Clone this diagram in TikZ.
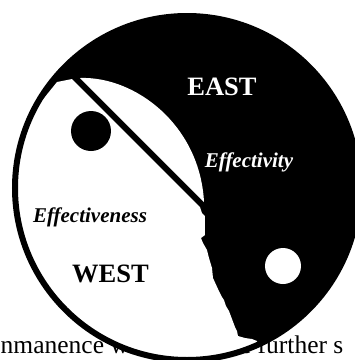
\documentclass[tikz,border=0pt]{standalone}
\usepackage{fontspec}
\setmainfont{Liberation Serif}
\begin{document}
\begin{tikzpicture}[x=1pt,y=-1pt,
  txt/.style={inner sep=0pt, anchor=base},
  body/.style={txt, anchor=base west, font=\fontsize{25.5}{30}\selectfont},
  big/.style={txt, font=\fontsize{26.5}{30}\selectfont\bfseries},
  ital/.style={txt, font=\fontsize{21}{25}\selectfont\bfseries\itshape}]
\useasboundingbox (0,0) rectangle (355,360);
\clip (0,0) rectangle (355,360);
% body text behind the disc
\node[body] (t1) at (0.5,353) {nmanence which};
\node[body] (t2) at (220,353) {the further s};
% disc
\coordinate (c) at (187,188);
\fill[black] (c) circle[radius=172pt];
\begin{scope}
  \clip (c) circle[radius=172pt];
  % white western region with coastline
  \fill[white] (72,79) -- (200,207) -- (202,213) -- (205,216) -- (205,235)
    -- (201,238) -- (203,243) -- (207,250) -- (209,258) -- (212,268)
    -- (213,278) -- (218,289) -- (222,297) -- (224,300) -- (226,306)
    -- (229,311) -- (232,319) -- (235,327) -- (237,331) -- (238,336)
    -- (245,338) -- (252,339) -- (257,341) -- (262,365) -- (262,400)
    -- (0,400) -- (0,112) -- (20,110) -- (40,103) -- (57,82) -- cycle;
  % white lens above the bar
  \fill[white] (80,78) .. controls (135,76) and (200,125) .. (204,202) -- cycle;
\end{scope}
% dots
\fill[black] (91,131) circle[radius=20pt];
\fill[white] (283,266) circle[radius=18pt];
% outline
\draw[line width=6pt] (c) circle[radius=172pt];
% labels
\node[big, text=white] (east) at (222,95) {EAST};
\node[ital, text=white] (effy) at (249,167) {Effectivity};
\node[ital] (effs) at (90,222.5) {Effectiveness};
\node[big] (west) at (110.5,282.5) {WEST};
\end{tikzpicture}
\end{document}
